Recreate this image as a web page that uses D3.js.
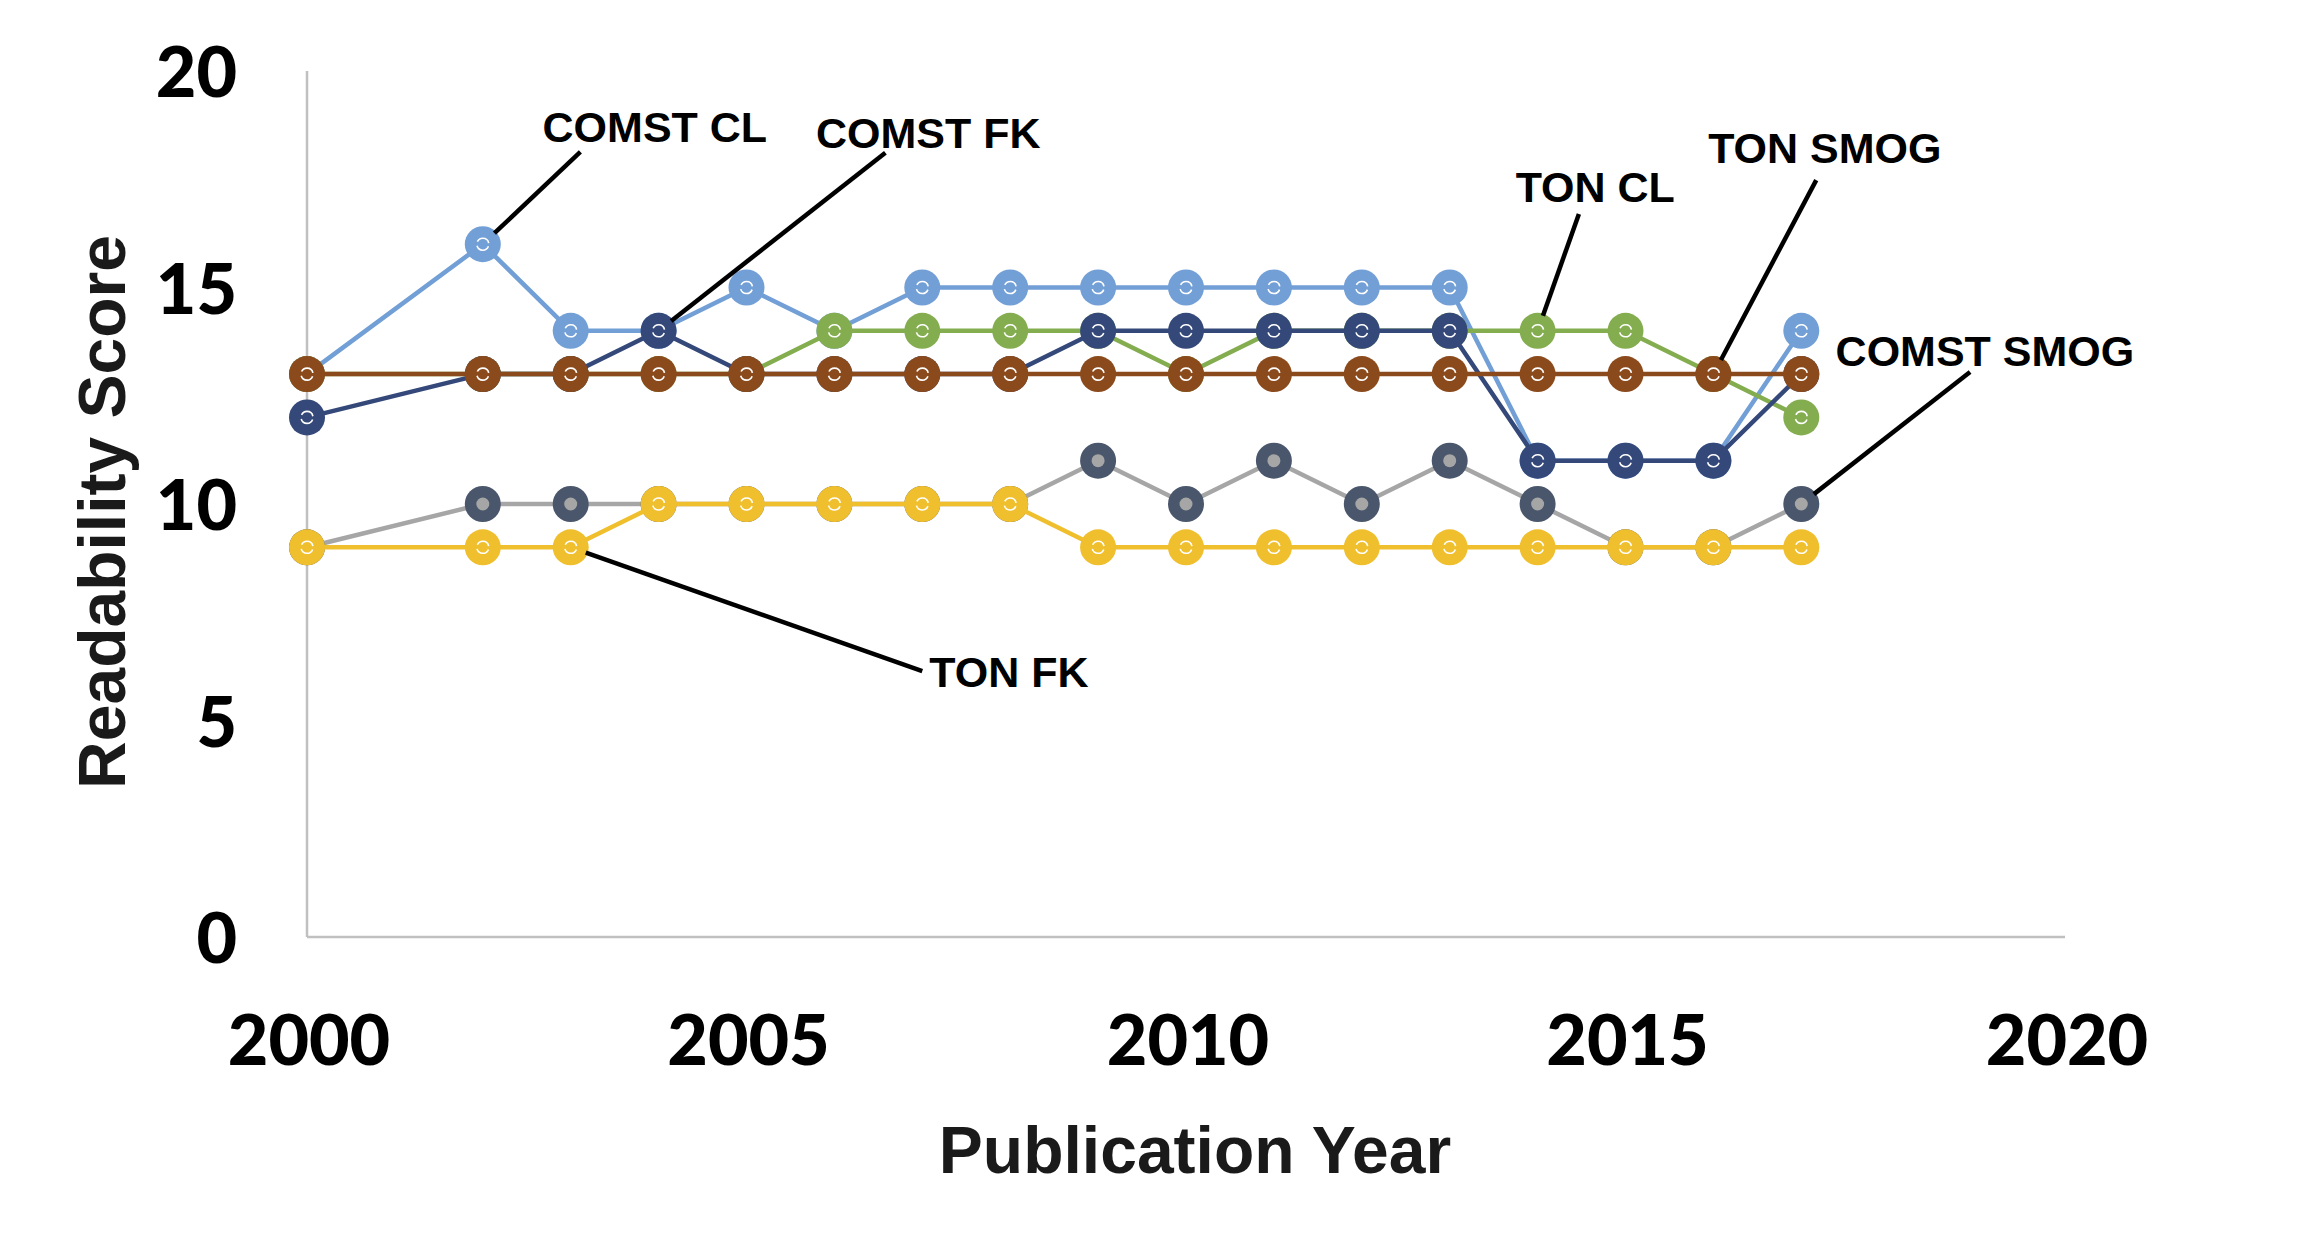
<!DOCTYPE html>
<html>
<head>
<meta charset="utf-8">
<script src="https://cdn.jsdelivr.net/npm/d3@7"></script>
<style>
  body { margin: 0; background: #fff; }
  svg { display: block; }
</style>
</head>
<body>
<div id="chart"></div>
<script>
// values (2001 has no point)
var years      = [2000, 2002, 2003, 2004, 2005, 2006, 2007, 2008, 2009, 2010, 2011, 2012, 2013, 2014, 2015, 2016, 2017];
var comstSMOG  = [9, 10, 10, 10, 10, 10, 10, 10, 11, 10, 11, 10, 11, 10, 9, 9, 10];
var tonFK      = [9, 9, 9, 10, 10, 10, 10, 10, 9, 9, 9, 9, 9, 9, 9, 9, 9];
var comstCL    = [13, 16, 14, 14, 15, 14, 15, 15, 15, 15, 15, 15, 15, 11, 11, 11, 14];
var tonCL      = [13, 13, 13, 13, 13, 14, 14, 14, 14, 13, 14, 14, 14, 14, 14, 13, 12];
var comstFK    = [12, 13, 13, 14, 13, 13, 13, 13, 14, 14, 14, 14, 14, 11, 11, 11, 13];
var tonSMOG    = [13, 13, 13, 13, 13, 13, 13, 13, 13, 13, 13, 13, 13, 13, 13, 13, 13];

var xTicks = [2000, 2005, 2010, 2015, 2020];
var yTicks = [0, 5, 10, 15, 20];

// drawing order = excel series order (last on top)
var series = [
  { name: "COMST SMOG", values: comstSMOG, line: "#a6a6a6", marker: "#4a566b", inner: "#a6a6a6" },
  { name: "TON FK",     values: tonFK,     line: "#f0bf2e", marker: "#f0bf2e" },
  { name: "COMST CL",   values: comstCL,   line: "#729fd6", marker: "#729fd6" },
  { name: "TON CL",     values: tonCL,     line: "#84ad50", marker: "#84ad50" },
  { name: "COMST FK",   values: comstFK,   line: "#344879", marker: "#344879" },
  { name: "TON SMOG",   values: tonSMOG,   line: "#8b4a1c", marker: "#8b4a1c" }
];

// callouts: label position and leader start in data units
var callouts = [
  { text: "COMST CL",   year: 2002, series: "COMST CL",   tx: 2002.68, ty: 18.36, lx: 2003.11, ly: 18.13 },
  { text: "COMST FK",   year: 2004, series: "COMST FK",   tx: 2005.79, ty: 18.22, lx: 2006.58, ly: 18.11 },
  { text: "TON CL",     year: 2014, series: "TON CL",     tx: 2013.75, ty: 16.97, lx: 2014.47, ly: 16.70 },
  { text: "TON SMOG",   year: 2016, series: "TON SMOG",   tx: 2015.94, ty: 17.88, lx: 2017.17, ly: 17.48 },
  { text: "COMST SMOG", year: 2017, series: "COMST SMOG", tx: 2017.39, ty: 13.19, lx: 2018.92, ly: 13.05 },
  { text: "TON FK",     year: 2003, series: "TON FK",     tx: 2007.08, ty: 5.77,  lx: 2007.00, ly: 6.14 }
];

var width = 2313, height = 1249;
var r = 18;

var svg = d3.select("#chart").append("svg")
    .attr("width", width)
    .attr("height", height);

var x = d3.scaleLinear().domain([2000, 2020]).range([307, 2065]);
var y = d3.scaleLinear().domain([0, 20]).range([937, 71]);

// axes lines
svg.append("line")
    .attr("x1", x(2000)).attr("x2", x(2000))
    .attr("y1", y(20)).attr("y2", y(0))
    .attr("stroke", "#c0c0c0").attr("stroke-width", 2.5);
svg.append("line")
    .attr("x1", x(2000)).attr("x2", x(2020))
    .attr("y1", y(0)).attr("y2", y(0))
    .attr("stroke", "#c0c0c0").attr("stroke-width", 2.5);

// tick labels
svg.selectAll(".ylab").data(yTicks).enter().append("text")
    .attr("class", "ylab")
    .attr("x", 237)
    .attr("y", d => y(d) + 26)
    .attr("text-anchor", "end")
    .style("font-family", "Lato")
    .style("font-weight", 900)
    .style("font-size", "70px")
    .text(d => d);

svg.selectAll(".xlab").data(xTicks).enter().append("text")
    .attr("class", "xlab")
    .attr("x", d => x(d) + 2)
    .attr("y", 1065)
    .attr("text-anchor", "middle")
    .style("font-family", "Lato")
    .style("font-weight", 900)
    .style("font-size", "70px")
    .text(d => d);

// axis titles
svg.append("text")
    .attr("transform", "translate(125,512) rotate(-90)")
    .attr("text-anchor", "middle")
    .style("font-family", "Liberation Sans")
    .style("font-weight", 700)
    .style("font-size", "66px")
    .attr("fill", "#1a1a1a")
    .text("Readability Score");

svg.append("text")
    .attr("x", 1195)
    .attr("y", 1173)
    .attr("text-anchor", "middle")
    .style("font-family", "Liberation Sans")
    .style("font-weight", 700)
    .style("font-size", "66px")
    .attr("fill", "#1a1a1a")
    .text("Publication Year");

// series
var line = d3.line()
    .x((d, i) => x(years[i]))
    .y(d => y(d));

series.forEach(function(s) {
  var g = svg.append("g");
  g.append("path")
      .attr("d", line(s.values))
      .attr("fill", "none")
      .attr("stroke", s.line)
      .attr("stroke-width", 4.5)
      .attr("stroke-linejoin", "round");

  var pts = g.selectAll("g.pt").data(s.values).enter().append("g")
      .attr("transform", (d, i) => "translate(" + x(years[i]) + "," + y(d) + ")");
  pts.append("circle")
      .attr("r", r)
      .attr("fill", s.marker);
  if (s.inner) {
    pts.append("circle").attr("r", 6.5).attr("fill", s.inner);
  } else {
    // small white ring, split at the sides like the excel marker
    pts.append("circle").attr("r", 6)
        .attr("fill", "none")
        .attr("stroke", "#fff")
        .attr("stroke-width", 1.6)
        .attr("stroke-dasharray", "14.5 4.35")
        .attr("stroke-dashoffset", -2.2);
  }
});

// callouts
callouts.forEach(function(c) {
  var s = series.filter(d => d.name === c.series)[0];
  var v = s.values[years.indexOf(c.year)];
  var cx = x(c.year), cy = y(v);
  var sx = x(c.lx), sy = y(c.ly);
  var dx = sx - cx, dy = sy - cy, len = Math.sqrt(dx * dx + dy * dy);
  svg.append("line")
      .attr("x1", sx).attr("y1", sy)
      .attr("x2", cx + dx / len * (r - 2)).attr("y2", cy + dy / len * (r - 2))
      .attr("stroke", "#000")
      .attr("stroke-width", 4.5);
  svg.append("text")
      .attr("x", x(c.tx))
      .attr("y", y(c.ty))
      .style("font-family", "Liberation Sans")
      .style("font-weight", 700)
      .style("font-size", "43px")
      .text(c.text);
});
</script>
</body>
</html>
